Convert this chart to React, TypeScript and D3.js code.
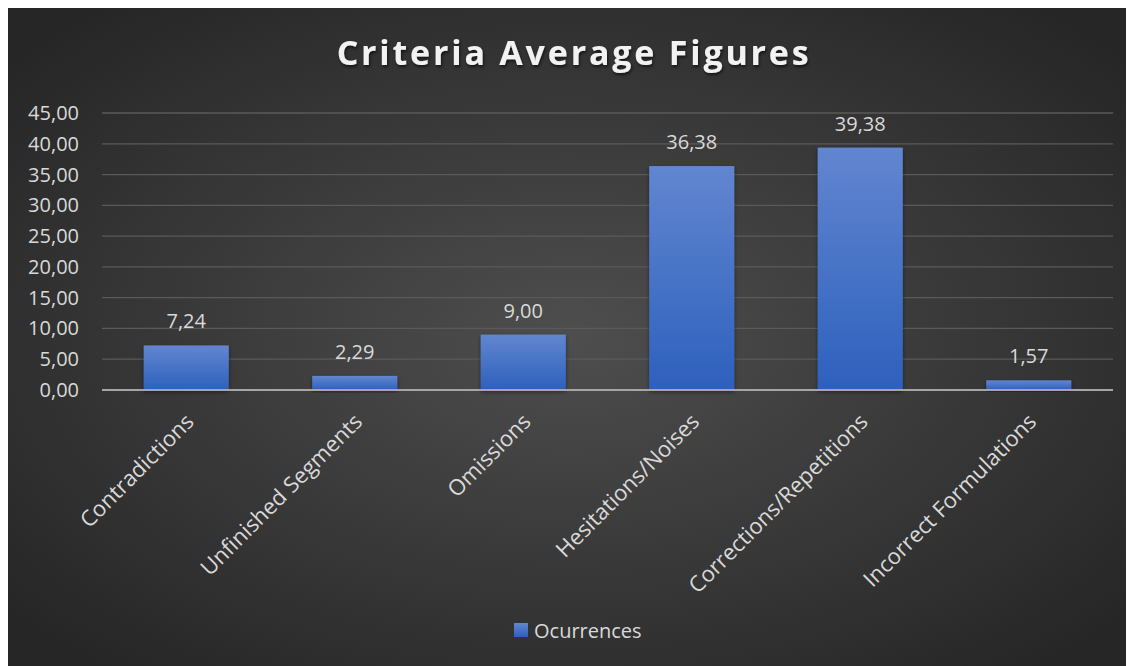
import React from "react";
import * as d3 from "d3";

const categories: string[] = [
  "Contradictions",
  "Unfinished Segments",
  "Omissions",
  "Hesitations/Noises",
  "Corrections/Repetitions",
  "Incorrect Formulations",
];
const occurrences: number[] = [7.24, 2.29, 9.0, 36.38, 39.38, 1.57];
const yTicks: number[] = [0, 5, 10, 15, 20, 25, 30, 35, 40, 45];
const seriesName = "Ocurrences";
const chartTitle = "Criteria Average Figures";

const W = 1126;
const H = 658;
const plot = { left: 94, right: 1105, top: 105, bottom: 382 };
const FONT = "'Open Sans', 'Noto Sans', sans-serif";

const fmt = (v: number) => d3.format(".2f")(v).replace(".", ",");

export default function App() {
  const x = d3
    .scaleBand<string>()
    .domain(categories)
    .range([plot.left, plot.right])
    .paddingInner(0.495)
    .paddingOuter(0.2475);
  const y = d3.scaleLinear().domain([0, 45]).range([plot.bottom, plot.top]);

  return (
    <svg width={W} height={H} style={{ display: "block" }}>
      <defs>
        <radialGradient id="bg" cx="50%" cy="50%" r="65%">
          <stop offset="0%" stopColor="#4e4e4e" />
          <stop offset="100%" stopColor="#262626" />
        </radialGradient>
        <linearGradient id="barFill" x1="0" y1="0" x2="0" y2="1">
          <stop offset="0%" stopColor="#6286d0" />
          <stop offset="100%" stopColor="#2d60bd" />
        </linearGradient>
        <filter id="titleShadow" x="-5%" y="-20%" width="110%" height="150%">
          <feDropShadow dx="1" dy="2" stdDeviation="1.5" floodColor="#000" floodOpacity="0.6" />
        </filter>
        <filter id="barShadow" x="-10%" y="-10%" width="120%" height="130%">
          <feDropShadow dx="0" dy="2" stdDeviation="2" floodColor="#000" floodOpacity="0.45" />
        </filter>
      </defs>
      <rect x={0} y={0} width={W} height={H} fill="url(#bg)" />

      <text
        x={566}
        y={57}
        textAnchor="middle"
        fill="#f2f2f2"
        fontFamily={FONT}
        fontWeight={700}
        fontSize={34}
        letterSpacing={2.8}
        filter="url(#titleShadow)"
      >
        {chartTitle}
      </text>

      {/* gridlines and value axis labels */}
      {yTicks.map((t) => (
        <g key={t}>
          {t !== 0 && (
            <line
              x1={plot.left}
              x2={plot.right}
              y1={y(t)}
              y2={y(t)}
              stroke="#5a5a5a"
              strokeWidth={1.3}
            />
          )}
          <text
            x={71}
            y={y(t)}
            dy="0.35em"
            textAnchor="end"
            fill="#d9d9d9"
            fontFamily={FONT}
            fontSize={20}
          >
            {fmt(t)}
          </text>
        </g>
      ))}

      {/* bars */}
      {categories.map((c, i) => (
        <rect
          key={c}
          x={x(c)!}
          y={y(occurrences[i])}
          width={x.bandwidth()}
          height={y(0) - y(occurrences[i])}
          fill="url(#barFill)"
          filter="url(#barShadow)"
        />
      ))}

      {/* category axis line */}
      <line
        x1={plot.left}
        x2={plot.right}
        y1={y(0)}
        y2={y(0)}
        stroke="#a6a6a6"
        strokeWidth={2}
      />

      {/* data labels */}
      {categories.map((c, i) => (
        <text
          key={c}
          x={x(c)! + x.bandwidth() / 2}
          y={y(occurrences[i]) - 17}
          textAnchor="middle"
          fill="#d9d9d9"
          fontFamily={FONT}
          fontSize={20}
        >
          {fmt(occurrences[i])}
        </text>
      ))}

      {/* rotated category labels */}
      {categories.map((c) => {
        const cx = x(c)! + x.bandwidth() / 2;
        return (
          <text
            key={c}
            transform={`translate(${cx + 9},${plot.bottom + 33}) rotate(-45)`}
            textAnchor="end"
            fill="#d9d9d9"
            fontFamily={FONT}
            fontSize={22}
          >
            {c}
          </text>
        );
      })}

      {/* legend */}
      <rect x={506} y={615} width={14} height={14} fill="url(#barFill)" />
      <text x={526} y={630} fill="#d9d9d9" fontFamily={FONT} fontSize={20}>
        {seriesName}
      </text>
    </svg>
  );
}
